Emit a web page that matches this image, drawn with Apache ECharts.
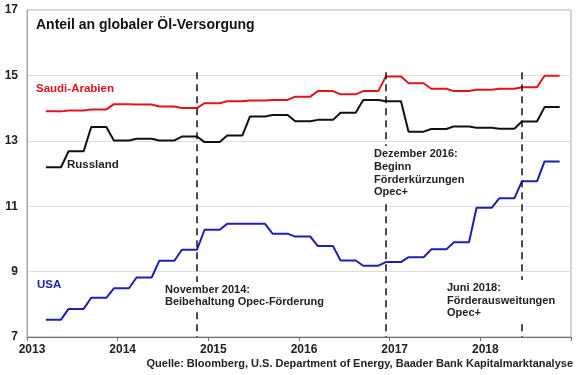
<!DOCTYPE html>
<html>
<head>
<meta charset="utf-8">
<script src="https://cdn.jsdelivr.net/npm/echarts@6/dist/echarts.min.js"></script>
<style>
	html,body{margin:0;padding:0;background:#fff}
	#chart{width:580px;height:375px}
</style>
</head>
<body>
<div id="chart"></div>
<script>
// Monatswerte Maerz 2013 bis November 2018 (Quartalswerte je 3 Monate)
const startYear = 2013, startMonth = 3, monthCount = 69
const years = [2013,2014,2015,2016,2017,2018,2019]
const yTicks = [7,9,11,13,15,17]

const saudi = [
	13.90,13.90,13.90, 13.93,13.93,13.93, 13.96,13.96,13.96, 14.12,14.12,14.12,
	14.11,14.11,14.11, 14.05,14.05,14.05, 14.00,14.00,14.00, 14.15,14.15,14.15,
	14.21,14.21,14.21, 14.23,14.23,14.23, 14.25,14.25,14.25, 14.35,14.35,14.35,
	14.52,14.52,14.52, 14.42,14.42,14.42, 14.52,14.52,14.52, 14.97,14.97,14.97,
	14.76,14.76,14.76, 14.59,14.59,14.59, 14.52,14.52,14.52, 14.56,14.56,14.56,
	14.59,14.59,14.59, 14.64,14.64,14.64, 14.99,14.99,14.99
]
const russland = [
	12.19,12.19,12.19, 12.68,12.68,12.68, 13.42,13.42,13.42, 13.01,13.01,13.01,
	13.06,13.06,13.06, 13.01,13.01,13.01, 13.13,13.13,13.13, 12.96,12.96,12.96,
	13.16,13.16,13.16, 13.74,13.74,13.74, 13.79,13.79,13.79, 13.60,13.60,13.60,
	13.64,13.64,13.64, 13.86,13.86,13.86, 14.25,14.25,14.25, 14.21,14.21,14.21,
	13.28,13.28,13.28, 13.36,13.36,13.36, 13.44,13.44,13.44, 13.40,13.40,13.40,
	13.37,13.37,13.37, 13.59,13.59,13.59, 14.03,14.03,14.03
]
const usa = [
	7.53,7.53,7.53, 7.86,7.86,7.86, 8.20,8.20,8.20, 8.49,8.49,8.49,
	8.82,8.82,8.82, 9.33,9.33,9.33, 9.67,9.67,9.67, 10.28,10.28,10.28,
	10.46,10.46,10.46, 10.46,10.46,10.46, 10.16,10.16,10.16, 10.07,10.07,10.07,
	9.78,9.78,9.78, 9.34,9.34,9.34, 9.18,9.18,9.18, 9.29,9.29,9.29,
	9.44,9.44,9.44, 9.68,9.68,9.68, 9.90,9.90,9.90, 10.95,10.95,10.95,
	11.24,11.24,11.24, 11.76,11.76,11.76, 12.37,12.37,12.37
]
// Ereignisse [Jahr, Monat]
const events = [[2014,11],[2016,12],[2018,6]]

// Monatsmitte als Jahreswert
const monthPos = (y,m) => y + (m - 0.5) / 12
const xs = []
for(let i=0;i<monthCount;i++){
	let m = startMonth - 1 + i
	xs.push(monthPos(startYear + Math.floor(m/12), m % 12 + 1))
}
const pairs = arr => arr.map((v,i) => [xs[i],v])

const red = "#e1141e", blue = "#1e1eb4", black = "#111"
const bold = "bold 11px 'Liberation Sans', Arial, sans-serif"

const chart = echarts.init(document.getElementById("chart"))
chart.setOption({
	animation: false,
	grid: {
		left: 27, right: 9, top: 10, bottom: 38,
		show: true,
		borderColor: "#a6a6a6",
		borderWidth: 1
	},
	xAxis: {
		type: "value",
		min: years[0],
		max: years[years.length-1],
		interval: 1,
		axisLine: {lineStyle: {color: "#6e6e6e", width: 1}},
		axisTick: {show: true, length: 4, lineStyle: {color: "#6e6e6e"}},
		splitLine: {show: false},
		axisLabel: {
			color: "#222",
			fontWeight: "bold",
			fontSize: 12,
			fontFamily: "Liberation Sans",
			margin: 7,
			padding: [0,0,0,10],
			formatter: v => years.includes(v) && v < 2019 ? String(v) : ""
		}
	},
	yAxis: {
		type: "value",
		min: yTicks[0],
		max: yTicks[yTicks.length-1],
		interval: 2,
		axisLine: {show: true, lineStyle: {color: "#a6a6a6"}},
		axisTick: {show: false},
		splitLine: {lineStyle: {color: "#dcdcdc", width: 1}},
		axisLabel: {
			color: "#222",
			fontWeight: "bold",
			fontSize: 12,
			fontFamily: "Liberation Sans",
			margin: 9
		}
	},
	series: [
		{
			name: "Saudi-Arabien",
			type: "line",
			data: pairs(saudi),
			showSymbol: false,
			lineStyle: {color: red, width: 2},
			z: 3
		},
		{
			name: "Russland",
			type: "line",
			data: pairs(russland),
			showSymbol: false,
			lineStyle: {color: black, width: 2},
			z: 3
		},
		{
			name: "USA",
			type: "line",
			data: pairs(usa),
			showSymbol: false,
			lineStyle: {color: blue, width: 2},
			z: 3,
			markLine: {
				silent: true,
				symbol: "none",
				label: {show: false},
				lineStyle: {color: "#111", type: [7,5], width: 1.5},
				data: events.map(e => [
					{coord: [monthPos(e[0],e[1]), 15.1]},
					{coord: [monthPos(e[0],e[1]), 7]}
				])
			}
		}
	],
	graphic: [
		{type: "text", left: 36, top: 18, z: 10,
			style: {text: "Anteil an globaler Öl-Versorgung", fill: "#111", font: "bold 14px 'Liberation Sans', Arial, sans-serif"}},
		{type: "text", left: 36, top: 83, z: 10,
			style: {text: "Saudi-Arabien", fill: red, font: "bold 11.5px 'Liberation Sans', Arial, sans-serif"}},
		{type: "text", left: 67, top: 159, z: 10,
			style: {text: "Russland", fill: "#222", font: "bold 11.5px 'Liberation Sans', Arial, sans-serif"}},
		{type: "text", left: 37, top: 279, z: 10,
			style: {text: "USA", fill: blue, font: "bold 11.5px 'Liberation Sans', Arial, sans-serif"}},
		{type: "text", left: 163, top: 282, z: 10,
			style: {text: "November 2014:\nBeibehaltung Opec-Förderung", fill: "#222", font: bold,
				lineHeight: 12, backgroundColor: "#fff", padding: [2,2,4,2]}},
		{type: "text", left: 372, top: 146, z: 10,
			style: {text: "Dezember 2016:\nBeginn\nFörderkürzungen\nOpec+", fill: "#222", font: bold,
				lineHeight: 12.7, backgroundColor: "#fff", padding: [2,2,4,2]}},
		{type: "text", left: 445, top: 280, z: 10,
			style: {text: "Juni 2018:\nFörderausweitungen\nOpec+", fill: "#222", font: bold,
				lineHeight: 12.5, backgroundColor: "#fff", padding: [2,2,4,2]}},
		{type: "text", right: 7, top: 358, z: 10,
			style: {text: "Quelle: Bloomberg, U.S. Department of Energy, Baader Bank Kapitalmarktanalyse", fill: "#222", font: bold}}
	]
})
</script>
</body>
</html>
